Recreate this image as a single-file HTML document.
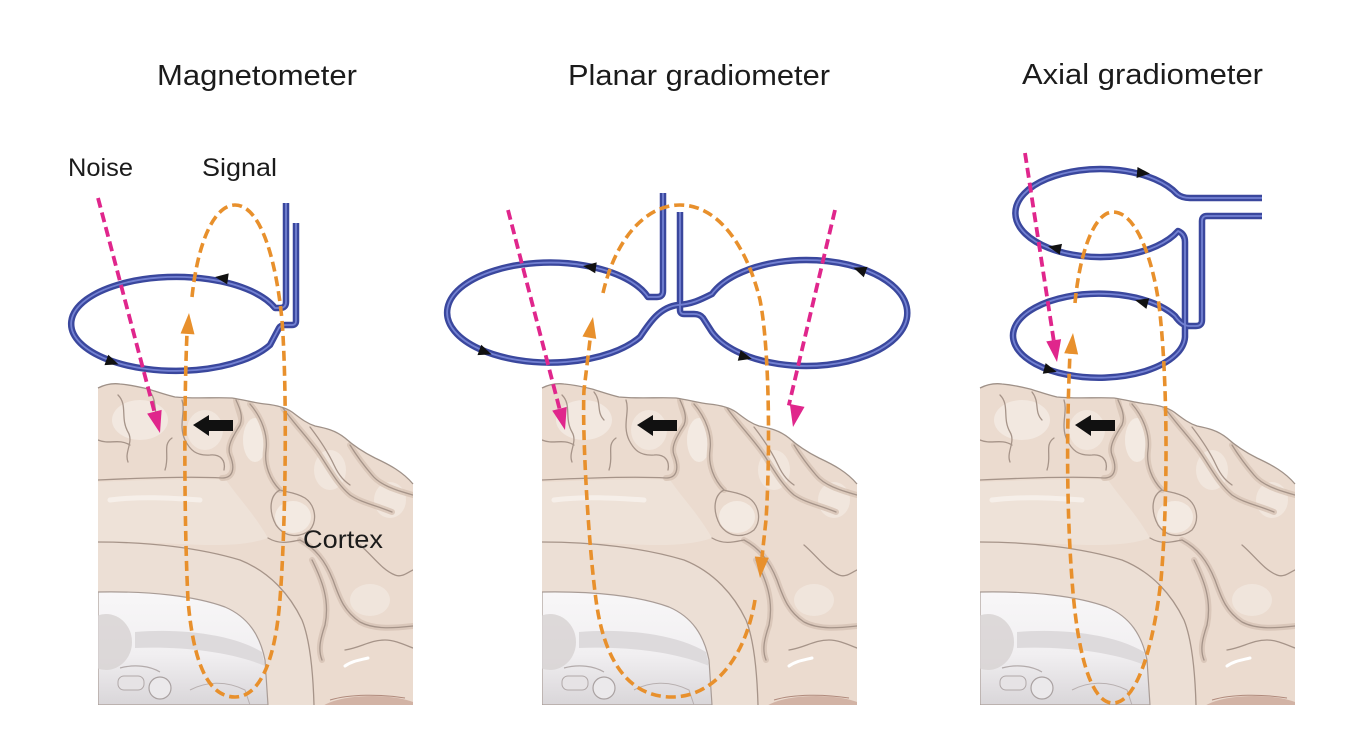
<!DOCTYPE html>
<html>
<head>
<meta charset="utf-8">
<style>
html,body{margin:0;padding:0;background:#fff;}
body{width:1354px;height:737px;overflow:hidden;}
svg{display:block;}
text{font-family:"Liberation Sans",Arial,sans-serif;fill:#1b1b1b;}
</style>
</head>
<body>
<svg width="1354" height="737" viewBox="0 0 1354 737" xmlns="http://www.w3.org/2000/svg">
<defs>
  <clipPath id="bc" clipPathUnits="userSpaceOnUse">
    <path d="M98,705 L98,388 C104,385 112,383 120,384 C132,385 140,387 148,389 C158,392 166,395 175,397 C195,399 215,397 232,398 C245,400 255,403 265,404 C275,405 285,407 292,412 C300,418 306,423 315,426 C325,428 335,430 345,438 C355,447 365,453 375,458 C390,465 403,472 413,484 L413,705 Z"/>
  </clipPath>
  <linearGradient id="vg" x1="0" y1="0" x2="0" y2="1">
    <stop offset="0" stop-color="#f8f7f8"/>
    <stop offset="0.55" stop-color="#f1eff1"/>
    <stop offset="1" stop-color="#d9d6d9"/>
  </linearGradient>

  <g id="brain">
    <path d="M98,705 L98,388 C104,385 112,383 120,384 C132,385 140,387 148,389 C158,392 166,395 175,397 C195,399 215,397 232,398 C245,400 255,403 265,404 C275,405 285,407 292,412 C300,418 306,423 315,426 C325,428 335,430 345,438 C355,447 365,453 375,458 C390,465 403,472 413,484 L413,705 Z" fill="#ebdbcf"/>
    <g clip-path="url(#bc)">
      <!-- highlights -->
      <ellipse cx="140" cy="420" rx="28" ry="20" fill="#f2e8e0"/>
      <ellipse cx="205" cy="430" rx="18" ry="20" fill="#f1e6dd"/>
      <ellipse cx="255" cy="440" rx="12" ry="22" fill="#f3eae2"/>
      <ellipse cx="330" cy="470" rx="16" ry="20" fill="#f1e6dd"/>
      <ellipse cx="390" cy="500" rx="16" ry="18" fill="#f1e6dd"/>
      <ellipse cx="293" cy="517" rx="18" ry="16" fill="#f3eae2"/>
      <ellipse cx="370" cy="600" rx="20" ry="16" fill="#f0e5dc"/>
      <!-- cingulate band -->
      <path d="M98,482 C150,480 200,478 226,480 C240,500 255,515 268,538 C240,548 200,545 160,543 C130,542 110,542 98,542 Z" fill="#eee2d8"/>
      <path d="M110,500 C140,496 170,498 200,500" stroke="#f6efe9" stroke-width="5" fill="none" stroke-linecap="round"/>
      <!-- callosal band -->
      <path d="M98,542 C150,542 200,548 240,560 C270,572 290,595 302,620 C310,640 313,670 314,705 L268,705 L265,660 C260,635 248,617 225,607 C195,596 150,591 98,592 Z" fill="#ecdfd5"/>
      <!-- darker sulcal shading -->
      <g stroke="#d7c3b5" stroke-width="6" fill="none" stroke-linecap="round" opacity="0.8">
        <path d="M236,400 C238,412 244,420 240,425 C236,432 226,445 230,455 C236,470 232,478 222,478"/>
        <path d="M250,404 C262,418 268,435 266,450 C264,465 270,480 280,490"/>
        <path d="M283,408 C295,425 310,440 320,455 C330,470 338,485 350,495 C362,503 375,505 392,512"/>
        <path d="M300,540 C315,548 325,560 333,580 C340,600 345,612 360,622 C375,630 395,628 413,626"/>
        <path d="M312,560 C322,580 330,600 325,625 C320,640 318,650 322,660"/>
        <path d="M350,445 C358,458 366,468 372,475 C380,485 395,490 413,495"/>
      </g>
      <!-- sulci lines -->
      <g stroke="#a69489" stroke-width="1.3" fill="none" stroke-linecap="round">
        <path d="M118,395 C128,405 120,418 128,432 C134,442 124,452 128,462"/>
        <path d="M150,392 C158,402 152,412 160,420"/>
        <path d="M98,440 C110,445 118,438 130,445"/>
        <path d="M165,470 C170,455 162,445 172,438"/>
        <path d="M98,480 C140,478 190,476 222,478 C232,478 236,470 230,455 C226,445 236,432 240,425 C244,415 238,405 236,400"/>
        <path d="M182,400 C186,412 178,425 185,440 C190,450 196,456 210,455 C220,454 226,460 224,470"/>
        <path d="M250,404 C262,418 268,435 266,450 C264,465 270,480 280,490 C270,495 268,510 276,525 C285,538 300,538 310,530 C318,520 315,505 305,498 C295,492 285,492 280,490"/>
        <path d="M283,408 C295,425 310,440 320,455 C330,470 338,485 350,495 C362,503 375,505 392,512"/>
        <path d="M310,427 C320,440 328,452 334,465 C340,478 346,482 350,485"/>
        <path d="M350,445 C358,458 366,468 372,475 C380,485 395,490 413,495"/>
        <path d="M300,540 C315,548 325,560 333,580 C340,600 345,612 360,622 C375,630 395,628 413,626"/>
        <path d="M312,560 C322,580 330,600 325,625 C320,640 318,650 322,660"/>
        <path d="M360,545 C372,555 382,570 395,575 C402,578 408,572 413,570"/>
        <path d="M345,650 C360,648 370,640 385,640 C395,640 405,645 413,648"/>
        <path d="M268,538 C280,545 290,542 300,540"/>
        <path d="M98,542 C150,542 200,548 240,560 C270,572 290,595 302,620 C310,640 313,670 314,705"/>
      </g>
      <!-- ventricle region -->
      <path d="M98,592 C150,591 195,596 225,607 C248,617 260,635 265,660 L268,705 L98,705 Z" fill="url(#vg)" stroke="#a99c96" stroke-width="1.2"/>
      <ellipse cx="106" cy="642" rx="26" ry="28" fill="#d8d3d3" opacity="0.85"/>
      <path d="M135,632 C180,628 232,634 262,652 L265,666 C232,652 182,646 135,648 Z" fill="#dddadc"/>
      <path d="M120,668 C135,664 150,666 160,672" stroke="#b3abab" stroke-width="1.2" fill="none"/>
      <circle cx="160" cy="688" r="11" fill="#ebe9eb" stroke="#aaa2a2" stroke-width="1.2"/>
      <rect x="118" y="676" width="26" height="14" rx="6" fill="#e6e3e5" stroke="#b0a8a8" stroke-width="1"/>
      <path d="M190,690 C205,682 225,680 245,690 L250,705" stroke="#b8b0b0" stroke-width="1" fill="none"/>
      <!-- cerebellum hint -->
      <ellipse cx="372" cy="714" rx="55" ry="18" fill="#caa697" opacity="0.75"/>
      <path d="M330,700 C350,694 380,694 405,698" stroke="#b08a7c" stroke-width="1" fill="none"/>
      <!-- white streak -->
      <path d="M345,666 C352,661 360,660 368,658" stroke="#ffffff" stroke-width="3" fill="none" stroke-linecap="round"/>
    </g>
    <!-- top contour -->
    <path d="M98,388 C104,385 112,383 120,384 C132,385 140,387 148,389 C158,392 166,395 175,397 C195,399 215,397 232,398 C245,400 255,403 265,404 C275,405 285,407 292,412 C300,418 306,423 315,426 C325,428 335,430 345,438 C355,447 365,453 375,458 C390,465 403,472 413,484" stroke="#9f9188" stroke-width="1.3" fill="none"/>
    <!-- black arrow -->
    <polygon points="193,425 209,415 209,420 233,420 233,431 209,431 209,436" fill="#111"/>
  </g>
</defs>

<!-- brains -->
<use href="#brain"/>
<use href="#brain" transform="translate(444,0)"/>
<use href="#brain" transform="translate(882,0)"/>

<!-- titles -->
<text x="157" y="85" font-size="29" textLength="200" lengthAdjust="spacingAndGlyphs">Magnetometer</text>
<text x="568" y="85" font-size="29" textLength="262" lengthAdjust="spacingAndGlyphs">Planar gradiometer</text>
<text x="1022" y="84" font-size="29" textLength="241" lengthAdjust="spacingAndGlyphs">Axial gradiometer</text>
<text x="68" y="176" font-size="25" textLength="65" lengthAdjust="spacingAndGlyphs">Noise</text>
<text x="202" y="176" font-size="25" textLength="75" lengthAdjust="spacingAndGlyphs">Signal</text>
<text x="303" y="548" font-size="25" textLength="80" lengthAdjust="spacingAndGlyphs">Cortex</text>

<!-- coils -->
<g fill="none" stroke-linejoin="round" stroke-linecap="butt">
  <g stroke="#3a479d" stroke-width="6.5">
    <path id="c1" d="M286,203 V302 Q286,308 280,308 H275 A105,47 0 1 0 270,345 L279,328 Q281,325 285,325 H292 Q296,325 296,321 V223"/>
    <path id="c2" d="M663,193 V291 Q663,297 657,297 H648 A103,50 0 1 0 640,337 C650,322 660,307 678,305 C692,304 700,300 712,294 A101,53 0 1 1 712,332 L703,318 Q700,314 694,314 H684 Q680,314 680,310 V212"/>
    <path id="c3" d="M1262,198 H1190 Q1182,198 1177,194 A85,44 0 1 0 1178,231 Q1185,234 1185,242 V337 A86,42 0 1 1 1175,316 Q1182,326 1190,326 H1196 Q1202,326 1202,320 V221 Q1202,216 1207,216 H1262"/>
  </g>
  <g stroke="#7381d2" stroke-width="1.8">
    <use href="#c1"/>
    <use href="#c2"/>
    <use href="#c3"/>
  </g>
</g>

<!-- coil arrowheads -->
<g fill="#111">
  <polygon points="7,0 -6,-5.5 -6,5.5" transform="translate(222,278) rotate(188)"/>
  <polygon points="7,0 -6,-5.5 -6,5.5" transform="translate(112,362) rotate(20)"/>
  <polygon points="7,0 -6,-5.5 -6,5.5" transform="translate(590,267) rotate(188)"/>
  <polygon points="7,0 -6,-5.5 -6,5.5" transform="translate(485,352) rotate(20)"/>
  <polygon points="7,0 -6,-5.5 -6,5.5" transform="translate(745,357) rotate(15)"/>
  <polygon points="7,0 -6,-5.5 -6,5.5" transform="translate(860,270) rotate(200)"/>
  <polygon points="7,0 -6,-5.5 -6,5.5" transform="translate(1143,173) rotate(5)"/>
  <polygon points="7,0 -6,-5.5 -6,5.5" transform="translate(1055,248) rotate(192)"/>
  <polygon points="7,0 -6,-5.5 -6,5.5" transform="translate(1142,302) rotate(195)"/>
  <polygon points="7,0 -6,-5.5 -6,5.5" transform="translate(1050,370) rotate(15)"/>
</g>

<!-- orange signal loops -->
<g fill="none" stroke="#e8902c" stroke-width="3.6" stroke-dasharray="10 5">
  <path d="M192,297 C198,240 215,205 235,205 C258,205 275,250 282,320 C288,400 285,550 279,610 C273,670 256,697 235,697 C207,697 193,660 188,600 C184,520 184,400 187,333"/>
  <path d="M603,293 C615,240 645,205 680,205 C720,205 748,250 760,300 C770,350 770,460 766,520 L762,557"/>
  <path d="M755,600 C745,660 712,697 672,697 C628,697 604,660 596,600 C588,540 582,430 584,390 L590,340"/>
  <path d="M1075,303 C1080,250 1095,212 1113,212 C1135,212 1152,255 1159,305 C1168,380 1168,500 1161,580 C1153,650 1136,703 1113,703 C1090,703 1077,650 1072,580 C1066,500 1067,420 1070,353"/>
</g>
<g fill="#e8902c">
  <polygon points="0,0 -21,-7 -21,7" transform="translate(189,313) rotate(-86)"/>
  <polygon points="0,0 -21,-7 -21,7" transform="translate(593,317) rotate(-80)"/>
  <polygon points="0,0 -21,-7 -21,7" transform="translate(760,578) rotate(95)"/>
  <polygon points="0,0 -21,-7 -21,7" transform="translate(1073,333) rotate(-85)"/>
</g>

<!-- pink noise arrows -->
<g fill="none" stroke="#e0268c" stroke-width="3.8" stroke-dasharray="10 5">
  <path d="M98,198 L154.4,411.7"/>
  <path d="M508,210 L559.5,408.7"/>
  <path d="M835,210 L788.8,405.4"/>
  <path d="M1025,153 L1053.7,340.3"/>
</g>
<g fill="#e0268c">
  <polygon points="0,0 -22,-7.5 -22,7.5" transform="translate(160,433) rotate(75.2)"/>
  <polygon points="0,0 -22,-7.5 -22,7.5" transform="translate(565,430) rotate(75.5)"/>
  <polygon points="0,0 -22,-7.5 -22,7.5" transform="translate(793,427) rotate(101)"/>
  <polygon points="0,0 -22,-7.5 -22,7.5" transform="translate(1057,362) rotate(81.3)"/>
</g>
</svg>
</body>
</html>
